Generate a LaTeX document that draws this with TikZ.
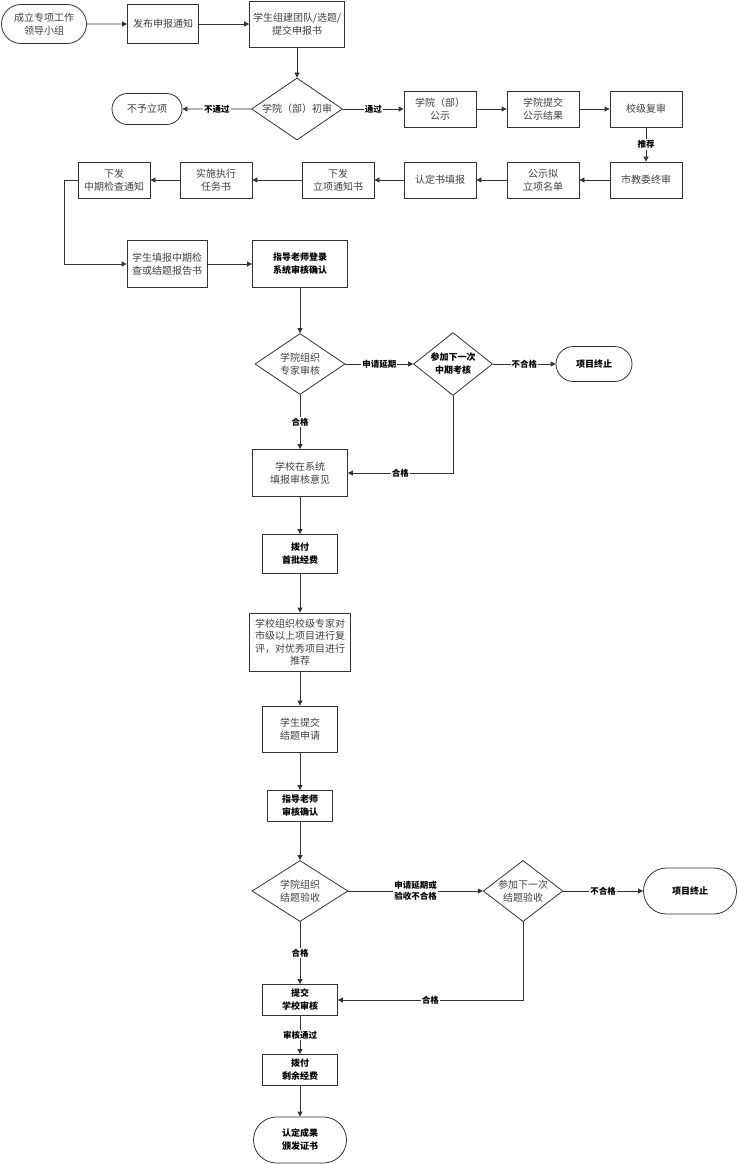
\documentclass[tikz,border=0pt]{standalone}
\usepackage{fontspec}
\setmainfont{Noto Sans CJK SC}
\usepackage{xcolor}
\usetikzlibrary{shapes.geometric,shapes.misc,arrows.meta}
\definecolor{FlowLine}{HTML}{333333}
\definecolor{FlowText}{HTML}{404040}

\begin{document}
\begin{tikzpicture}[x=1pt,y=-1pt,
    every node/.style={font=\fontsize{10}{13.5}\selectfont,text=FlowText,align=center},
    box/.style={draw=FlowLine,rectangle,line width=0.8pt,minimum width=72pt,minimum height=36pt,inner sep=1pt},
    term/.style={draw=FlowLine,rounded rectangle,line width=0.8pt,minimum width=72pt,minimum height=31pt,inner sep=1pt},
    check/.style={draw=FlowLine,diamond,line width=0.8pt,shape aspect=1.47,inner sep=0pt,minimum width=91pt,minimum height=62pt},
    strong/.style={font=\fontsize{9}{13}\selectfont\bfseries,text=black},
    arr/.style={draw=FlowLine,line width=0.8pt,-{Triangle[length=5pt,width=5pt]}},
    lbl/.style={fill=white,inner sep=1pt,font=\fontsize{8.5}{11}\selectfont\bfseries,text=black}]
  \useasboundingbox (0,0) rectangle (738,1164);
  % application
  \node[term,minimum width=87pt,minimum height=39pt] (lead) at (44,24) {成立专项工作\\领导小组};
  \node[box,minimum width=71pt,minimum height=39pt] (notice) at (163,24) {发布申报通知};
  \node[box,minimum width=95pt,minimum height=46pt] (team) at (297,24) {学生组建团队/选题/\\提交申报书};
  \node[check] (first) at (297,109) {学院（部）初审};
  \node[term] (reject) at (147,109) {不予立项};
  \node[box] (pub) at (440,109) {学院（部）\\公示};
  \node[box] (result) at (543,109) {学院提交\\公示结果};
  \node[box] (school) at (646,109) {校级复审};
  % approval
  \node[box] (city) at (646,180) {市教委终审};
  \node[box] (list) at (543,180) {公示拟\\立项名单};
  \node[box] (fill) at (440,180) {认定书填报};
  \node[box] (issue) at (338,180) {下发\\立项通知书};
  \node[box] (task) at (216,180) {实施执行\\任务书};
  \node[box] (mid) at (114,180) {下发\\中期检查通知};
  \coordinate (bend) at (64,264);
  % midterm check
  \node[box,minimum width=80pt,minimum height=47pt] (report) at (167,264) {学生填报中期检\\查或结题报告书};
  \node[box,strong,minimum width=95pt,minimum height=47pt] (tutor) at (300,264) {指导老师登录\\系统审核确认};
  \node[check,minimum width=90pt,minimum height=61pt] (expert) at (300,364) {学院组织\\专家审核};
  \node[check,strong,shape aspect=1.25,minimum width=79pt,minimum height=63pt] (again) at (453,364) {参加下一次\\中期考核};
  \node[term,strong,minimum width=78pt,minimum height=35pt] (stop) at (594,364) {项目终止};
  \node[box,minimum width=95pt,minimum height=47pt] (opinion) at (300,473) {学校在系统\\填报审核意见};
  % funding
  \node[box,strong,minimum width=75pt,minimum height=39pt] (fund) at (300,554) {拨付\\首批经费};
  \node[box,font=\fontsize{10}{12.5}\selectfont,minimum width=101pt,minimum height=58pt] (review) at (300,642) {学校组织校级专家对\\市级以上项目进行复\\评，对优秀项目进行\\推荐};
  \node[box,minimum width=75pt,minimum height=46pt] (apply) at (300,729) {学生提交\\结题申请};
  \node[box,strong,minimum width=65pt,minimum height=31pt] (confirm) at (300,806) {指导老师\\审核确认};
  % final acceptance
  \node[check,minimum width=96pt,minimum height=61pt] (accept) at (300,891) {学院组织\\结题验收};
  \node[check,shape aspect=1.3,minimum width=79pt,minimum height=61pt] (again2) at (523,891) {参加下一次\\结题验收};
  \node[term,strong,minimum width=95pt,minimum height=46pt] (stop2) at (690,891) {项目终止};
  \node[box,strong,minimum width=75pt,minimum height=31pt] (submit) at (300,1000) {提交\\学校审核};
  \node[box,strong,minimum width=75pt,minimum height=31pt] (rest) at (300,1070) {拨付\\剩余经费};
  \node[term,strong,minimum width=95pt,minimum height=46pt] (cert) at (300,1140) {认定成果\\颁发证书};
  % connectors
  \foreach \a/\b in {lead/notice,notice/team,team/first,pub/result,result/school,
                     city/list,list/fill,fill/issue,issue/task,task/mid,report/tutor,
                     tutor/expert,opinion/fund,fund/review,review/apply,apply/confirm,
                     confirm/accept,rest/cert}
    \draw[arr] (\a) -- (\b);
  \draw[arr] (first) -- node[lbl] {不通过} (reject);
  \draw[arr] (first) -- node[lbl] {通过} (pub);
  \draw[arr] (school) -- node[lbl] {推荐} (city);
  \draw[arr] (mid.west) -| (bend) -- (report.west);
  \draw[arr] (expert) -- node[lbl] {申请延期} (again);
  \draw[arr] (again) -- node[lbl] {不合格} (stop);
  \draw[arr] (expert) -- node[lbl] {合格} (opinion);
  \draw[arr] (again.south) |- node[lbl,pos=0.75] {合格} (opinion.east);
  \draw[arr] (accept) -- node[lbl] {申请延期或\\验收不合格} (again2);
  \draw[arr] (again2) -- node[lbl] {不合格} (stop2);
  \draw[arr] (accept) -- node[lbl] {合格} (submit);
  \draw[arr] (again2.south) |- node[lbl,pos=0.75] {合格} (submit.east);
  \draw[arr] (submit) -- node[lbl] {审核通过} (rest);
\end{tikzpicture}
\end{document}
